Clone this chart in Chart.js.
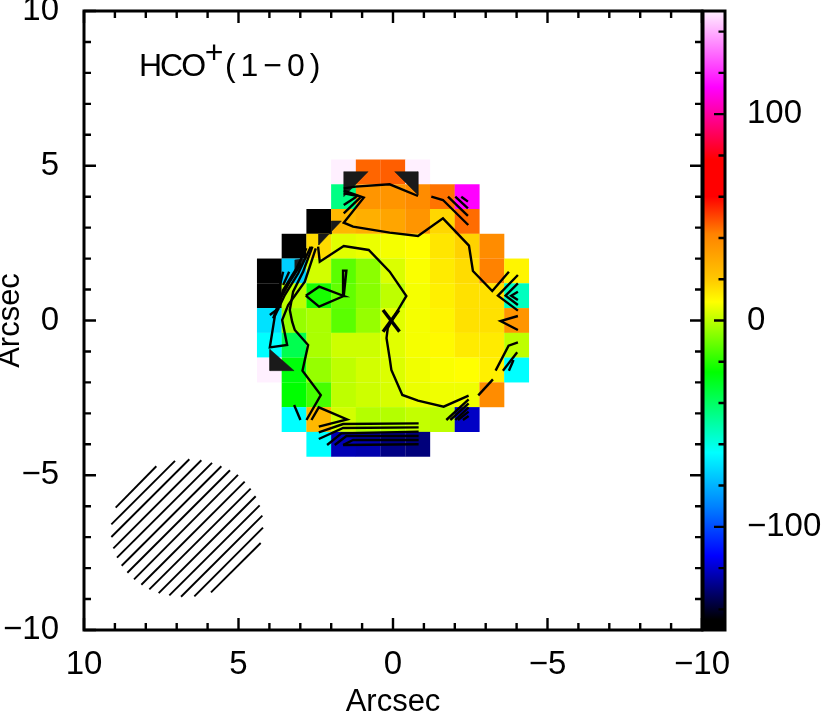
<!DOCTYPE html>
<html>
<head>
<meta charset="utf-8">
<title>HCO+(1-0)</title>
<script src="https://cdn.jsdelivr.net/npm/chart.js@4"></script>
<style>
    html, body { margin: 0; padding: 0; background: #fff; overflow: hidden; }
    #map { position: absolute; left: 0; top: 0; }
    #bar { position: absolute; left: 690px; top: 0; }
</style>
</head>
<body>
<canvas id="map" width="830" height="712"></canvas>
<canvas id="bar" width="140" height="712"></canvas>
<script>
// cell centres, arcsec
const colX = [4, 3.2, 2.4, 1.6, 0.8, 0, -0.8, -1.6, -2.4, -3.2, -4];
const rowY = [4.8, 4, 3.2, 2.4, 1.6, 0.8, 0, -0.8, -1.6, -2.4, -3.2, -4];

// velocity per row
const n = null;
const row1 = [n, n, n, 150, 46, 47, 150, n, n, n, n];
const row2 = [n, n, n, -45, 36, 36, 39, 44, 113, n, n];
const row3 = [n, n, -150, 25, 28, 31, 36, 17, 45, n, n];
const row4 = [n, -150, 16, 5, 6.3, 7.7, 9, 14, 18, 39, n];
const row5 = [-150, -74, 3, -13, -6.5, 4, 8.3, 13, 16, 42, 11];
const row6 = [-150, 0, -22, -12, -7, 0.3, 7.7, 12, 15, 15, -54];
const row7 = [-70, -5, -2.3, -13, -5, 5, 7.7, 11, 15, 15, 36];
const row8 = [-64, -37, -2.3, 2.3, 2.3, 5, 7.7, 10, 13, 13, 0.3];
const row9 = [150, -26.5, -5, 0.3, 3, 4.3, 7, 8.3, 9, 12, -64];
const row10 = [n, -25, -15.7, 0.3, 2.3, 3.7, 6.3, 7, 7, 39, n];
const row11 = [n, -64, 25, 3, -1, -1, 1, 0.3, -121, n, n];
const row12 = [n, n, -64, -123, -124, -129, -130, n, n, n, n];
const rows = [row1, row2, row3, row4, row5, row6, row7, row8, row9, row10, row11, row12];

// colour table
const levelValues = [-150, -145, -114, -90, -64, -50, -25, 9, 20, 42, 60, 78, 113, 150];
const levelColors = [[0, 0, 0], [0, 0, 0], [0, 0, 255], [0, 130, 255], [0, 255, 255], [0, 255, 165],
    [0, 255, 0], [255, 255, 0], [255, 200, 0], [255, 130, 0], [255, 0, 0], [255, 0, 0], [255, 0, 255], [255, 240, 255]];
const barTicks = [-140, -120, -100, -80, -60, -40, -20, 0, 20, 40, 60, 80, 100, 120, 140];

// contours, arcsec
const contourA = [[1.594, 4.27], [1.206, 4.324], [0.107, 4.4], [-0.809, 4.023]];
const contourA2 = [[-1.24, 4.001], [-1.617, 3.894], [-2.436, 3.086]];
const contourB = [[1.594, 4.195], [0.947, 3.969], [1.594, 3.161], [1.292, 3.032], [0.107, 2.838], [-0.809, 2.73],
    [-1.617, 3.301], [-2.458, 2.418], [-2.587, 1.6], [-3.212, 0.953], [-3.751, 1.578]];
const contourC = [[2.424, 2.386], [2.37, 1.901], [1.594, 2.407], [0.786, 2.278], [0.107, 1.578], [-0.432, 0.792],
    [-0.162, 0.339], [0.17, -0.25], [0.21, -0.57], [0.107, -1.223], [0.053, -1.6], [-0.302, -2.407],
    [-0.809, -2.591], [-1.639, -2.784], [-2.447, -2.429]];
const contourD = [[2.607, 2.386], [2.909, 1.578], [3.232, 0.932], [3.34, 0.339], [3.264, -0.038], [3.178, -0.307],
    [2.747, -0.792], [2.93, -1.621], [2.337, -2.407], [2.801, -3.215]];
const contourE = [[2.639, -3.215], [2.402, -2.806], [1.486, -3.194], [2.402, -3.431]];
const contourF = [[2.661, 2.386], [3.07, 1.524], [3.501, 0.824], [3.824, 0.145], [3.986, -0.867], [3.426, -0.792],
    [3.587, 0.016], [3.393, 0.501], [2.855, 1.255], [2.499, 2.332]];
const contourG = [[2.801, 2.332], [3.124, 1.686], [3.555, 0.985], [3.695, 0.501]];
const contourH = [[2.962, 1.847], [3.34, 1.255], [3.663, 0.662], [3.878, 0.07]];
const contourLoop = [[2.822, 0.802], [2.391, 1.093], [1.594, 0.792], [1.616, 1.61], [1.508, 1.61], [1.594, 0.792],
    [2.391, 0.447], [2.822, 0.802]];
const bottom1 = [[2.402, -3.614], [1.615, -3.344], [-0.83, -3.323]];
const bottom2 = [[2.402, -3.829], [1.615, -3.474], [-0.83, -3.452]];
const bottom3 = [[2.133, -4.023], [1.669, -3.646], [-0.83, -3.592]];
const bottom4 = [[1.885, -4.023], [1.508, -3.732], [-0.83, -3.732]];
const bottom5 = [[1.615, -4.023], [1.292, -3.861], [-0.83, -3.861]];
const bottom6 = [[1.615, -4.023], [-0.83, -4]];
const shortLines = [
    [[3.361, 1.578], [3.555, 1.147]], [[3.555, 1.578], [3.695, 0.985]], [[3.695, 0.393], [3.986, 0.178]],
    [[1.594, 4.109], [1.131, 4.023]], [[1.594, 3.732], [1.184, 4.001]], [[1.594, 3.463], [1.055, 3.98]],
    [[-1.779, 4.001], [-2.425, 3.377]], [[-2.016, 4.001], [-2.425, 3.624]], [[-2.21, 4.001], [-2.425, 3.84]],
    [[-4.042, 1.47], [-3.395, 0.802], [-4.042, 0.318]], [[-4.042, 1.2], [-3.643, 0.802], [-4.042, 0.501]],
    [[-4.042, 0.932], [-3.826, 0.802], [-4.042, 0.662]],
    [[-4.042, 0.145], [-3.481, -0.016], [-4.042, -0.307]],
    [[-4.042, -0.706], [-3.74, -0.813], [-3.32, -1.621]], [[-4.02, -1.029], [-3.557, -1.621]],
    [[-3.9, -1.276], [-3.751, -1.621]], [[-3.234, -1.901], [-2.759, -2.418]],
    [[-1.725, -3.215], [-2.447, -2.547]], [[-1.854, -3.215], [-2.447, -2.677]], [[-2.016, -3.215], [-2.447, -2.806]],
    [[-2.102, -3.215], [-2.447, -2.946]], [[-2.263, -3.215], [-2.447, -3.086]],
    [[3.2, -2.73], [2.995, -3.215]]
];
// where the contours crowd into a solid wedge
const denseWedges = [
    [[1.594, 4.809], [0.807, 4.809], [1.594, 4.001]],
    [[-0.055, 4.809], [-0.809, 4.809], [-0.809, 4.055]],
    [[1.669, 3.215], [1.993, 3.215], [1.993, 2.795], [2.402, 2.795], [2.402, 2.439]],
    [[3.986, -0.932], [3.986, -1.621], [3.2, -1.621]],
    [[3.178, 1.955], [2.801, 2.009], [3.178, 1.631]]
];

// centre cross
const crossA = [[0.323, 0.339], [-0.21, -0.36]];
const crossB = [[-0.19, 0.339], [0.323, -0.36]];

// hatching of the beam
const beamHatch = [
    [[8.975, -6.046], [7.659, -4.708]], [[9.115, -6.585], [7.055, -4.536]], [[9.115, -6.995], [6.591, -4.482]],
    [[9.05, -7.362], [6.202, -4.514]], [[8.932, -7.664], [5.857, -4.601]], [[8.781, -7.923], [5.555, -4.708]],
    [[8.597, -8.15], [5.275, -4.838]], [[8.381, -8.365], [5.016, -4.989]], [[8.144, -8.538], [4.8, -5.205]],
    [[7.885, -8.689], [4.606, -5.431]], [[7.583, -8.808], [4.444, -5.679]], [[7.238, -8.883], [4.315, -5.971]],
    [[6.86, -8.926], [4.228, -6.305]], [[6.429, -8.916], [4.207, -6.693]], [[5.89, -8.786], [4.282, -7.19]]
];

const contourLines = [contourA, contourA2, contourB, contourC, contourD, contourE, contourF, contourG, contourH,
    contourLoop, bottom1, bottom2, bottom3, bottom4, bottom5, bottom6].concat(shortLines);

// text inside the map
const titleParts = [
    { text: 'HCO', x: 8.22, y: 7.9, spacing: -2 },
    { text: '+', x: 6.09, y: 8.32, spacing: 0 },
    { text: '(1\u22120)', x: 5.44, y: 7.9, spacing: 5 }
];

const FONT = '"Liberation Sans", Arial, sans-serif';
const MINUS = '\u2212';

function valueColor(v) {
    let i = 0;
    while (i < levelValues.length - 2 && v > levelValues[i + 1]) i++;
    const t = Math.min(1, Math.max(0, (v - levelValues[i]) / (levelValues[i + 1] - levelValues[i])));
    const a = levelColors[i], b = levelColors[i + 1];
    return 'rgb(' + a.map((c, k) => Math.round(c + (b[k] - c) * t)).join(',') + ')';
}

function signed(v) {
    return String(v).replace('-', MINUS);
}

// keep the plot box where it is, labels may run past it
function noOverflow(s) {
    s.paddingTop = 0;
    s.paddingBottom = 0;
    s.paddingLeft = 0;
    s.paddingRight = 0;
}

const cells = [];
const cellColors = [];
rows.forEach((row, r) => {
    row.forEach((v, c) => {
        if (v === null) return;
        cells.push({ x: colX[c], y: rowY[r] });
        cellColors.push(valueColor(v));
    });
});

function lineSet(data, width) {
    return { data: data, showLine: true, borderColor: '#000', borderWidth: width, pointRadius: 0, tension: 0, order: 1 };
}

const datasets = [
    ...contourLines.map(l => lineSet(l, 2.4)),
    ...beamHatch.map(l => lineSet(l, 1.9)),
    lineSet(crossA, 3.4),
    lineSet(crossB, 3.4),
    ...denseWedges.map(w => Object.assign(lineSet(w.concat([w[0]]), 0.5), { fill: 'shape', backgroundColor: '#1a1a1a', borderColor: '#1a1a1a' })),
    {
        data: cells,
        pointStyle: 'rect',
        pointRadius: 17.6,
        pointBorderWidth: 0,
        pointBackgroundColor: cellColors,
        order: 2
    }
];

const frameTicks = {
    id: 'frameTicks',
    afterDraw(chart) {
        const { ctx, chartArea: a, scales: { x, y } } = chart;
        ctx.save();
        ctx.strokeStyle = '#000';
        ctx.lineWidth = 2.4;
        ctx.beginPath();
        x.ticks.forEach(t => {
            const px = x.getPixelForValue(t.value);
            const len = t.value % 5 === 0 ? 12 : 7;
            ctx.moveTo(px, a.bottom); ctx.lineTo(px, a.bottom - len);
            ctx.moveTo(px, a.top); ctx.lineTo(px, a.top + len);
        });
        y.ticks.forEach(t => {
            const py = y.getPixelForValue(t.value);
            const len = t.value % 5 === 0 ? 12 : 7;
            ctx.moveTo(a.left, py); ctx.lineTo(a.left + len, py);
            ctx.moveTo(a.right, py); ctx.lineTo(a.right - len, py);
        });
        ctx.stroke();
        ctx.lineWidth = 3;
        ctx.strokeRect(a.left, a.top, a.right - a.left, a.bottom - a.top);

        ctx.fillStyle = '#000';
        ctx.font = '32px ' + FONT;
        ctx.textAlign = 'left';
        ctx.textBaseline = 'alphabetic';
        titleParts.forEach(p => {
            ctx.letterSpacing = p.spacing + 'px';
            ctx.fillText(p.text, x.getPixelForValue(p.x), y.getPixelForValue(p.y));
        });
        ctx.restore();
    }
};

new Chart(document.getElementById('map'), {
    type: 'scatter',
    data: { datasets: datasets },
    options: {
        responsive: false,
        animation: false,
        events: [],
        layout: { autoPadding: false, padding: { top: 11, right: 128, left: 0, bottom: 0 } },
        plugins: { legend: { display: false }, tooltip: { enabled: false } },
        scales: {
            x: {
                type: 'linear',
                reverse: true,
                min: -10,
                max: 10,
                afterFit: s => { s.height = 82; noOverflow(s); },
                grid: { display: false },
                border: { display: false },
                title: { display: true, text: 'Arcsec', color: '#000', padding: 0, font: { family: FONT, size: 31, lineHeight: 0.6 } },
                ticks: {
                    stepSize: 1,
                    autoSkip: false,
                    maxRotation: 0,
                    padding: 7,
                    color: '#000',
                    font: { family: FONT, size: 33 },
                    callback: v => (v % 5 === 0 ? signed(v) : '')
                }
            },
            y: {
                type: 'linear',
                min: -10,
                max: 10,
                afterFit: s => { s.width = 84; noOverflow(s); },
                grid: { display: false },
                border: { display: false },
                title: { display: true, text: 'Arcsec', color: '#000', padding: 0, font: { family: FONT, size: 31, lineHeight: 0.67 } },
                ticks: {
                    stepSize: 1,
                    autoSkip: false,
                    padding: 17,
                    color: '#000',
                    font: { family: FONT, size: 33 },
                    callback: v => (v % 5 === 0 ? signed(v) : '')
                }
            }
        }
    },
    plugins: [frameTicks]
});

// colour bar
const barRange = [[-150, 150]];

const barFrame = {
    id: 'barFrame',
    afterDraw(chart) {
        const { ctx, chartArea: a, scales: { y } } = chart;
        ctx.save();
        ctx.strokeStyle = '#000';
        ctx.lineWidth = 2.4;
        ctx.beginPath();
        y.ticks.forEach(t => {
            const py = y.getPixelForValue(t.value);
            ctx.moveTo(a.right, py);
            ctx.lineTo(a.right - (t.value % 100 === 0 ? 11 : 6.5), py);
        });
        ctx.stroke();
        ctx.lineWidth = 3;
        ctx.strokeRect(a.left, a.top, a.right - a.left, a.bottom - a.top);
        ctx.restore();
    }
};

function barGradient(context) {
    const chart = context.chart;
    if (!chart.chartArea) return '#000';
    const y = chart.scales.y;
    const g = chart.ctx.createLinearGradient(0, y.getPixelForValue(-150), 0, y.getPixelForValue(150));
    levelValues.forEach((v, i) => {
        g.addColorStop((v + 150) / 300, 'rgb(' + levelColors[i].join(',') + ')');
    });
    return g;
}

const barCanvas = document.getElementById('bar');
barCanvas.getContext('2d').letterSpacing = '1.5px';

new Chart(barCanvas, {
    type: 'bar',
    data: {
        labels: [''],
        datasets: [{ data: barRange, backgroundColor: barGradient, borderWidth: 0, barPercentage: 1, categoryPercentage: 1 }]
    },
    options: {
        responsive: false,
        animation: false,
        events: [],
        layout: { autoPadding: false, padding: { top: 11, bottom: 82, left: 13, right: 0 } },
        plugins: { legend: { display: false }, tooltip: { enabled: false } },
        scales: {
            x: { display: false },
            y: {
                position: 'right',
                min: -150,
                max: 150,
                afterFit: s => { s.width = 105; noOverflow(s); },
                afterBuildTicks: s => { s.ticks = barTicks.map(v => ({ value: v })); },
                grid: { display: false },
                border: { display: false },
                ticks: {
                    autoSkip: false,
                    padding: 14,
                    color: '#000',
                    font: { family: FONT, size: 33 },
                    callback: v => (v % 100 === 0 ? signed(v) : '')
                }
            }
        }
    },
    plugins: [barFrame]
});
</script>
</body>
</html>
